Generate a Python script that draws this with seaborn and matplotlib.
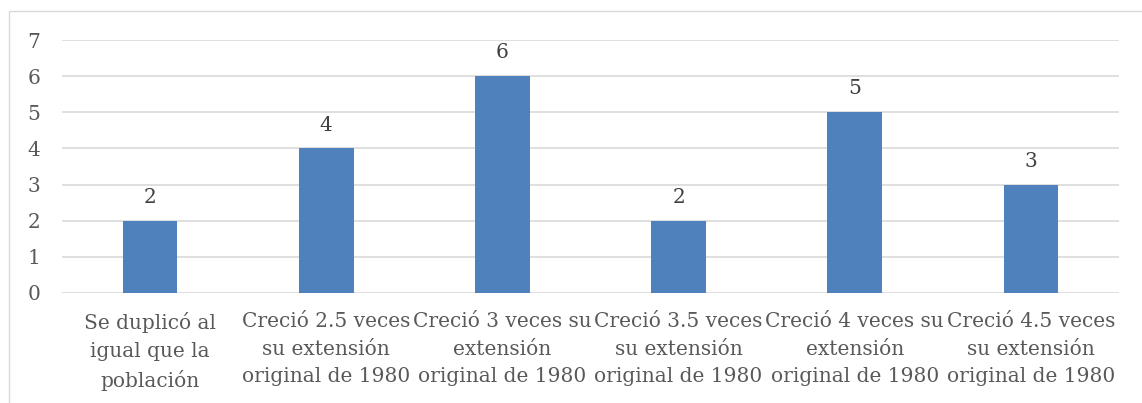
import pandas as pd
import seaborn as sns
import matplotlib.pyplot as plt
from matplotlib.patches import Rectangle

# data
categorias = ["Se duplicó al\nigual que la\npoblación",
              "Creció 2.5 veces\nsu extensión\noriginal de 1980",
              "Creció 3 veces su\nextensión\noriginal de 1980",
              "Creció 3.5 veces\nsu extensión\noriginal de 1980",
              "Creció 4 veces su\nextensión\noriginal de 1980",
              "Creció 4.5 veces\nsu extensión\noriginal de 1980"]
valores = [2, 4, 6, 2, 5, 3]

df = pd.DataFrame({"cat": categorias, "val": valores})

sns.set_style("white")
plt.rcParams['font.family'] = ['DejaVu Serif']

fig = plt.figure(figsize=(11.42, 4.03), dpi=100)
ax = fig.add_axes([62/1142, 1 - 293/403, (1119 - 62)/1142, (293 - 40)/403])

sns.barplot(data=df, x="cat", y="val", color="#4F81BD", width=0.31,
            saturation=1, linewidth=0, ax=ax, zorder=3)

ax.set_ylim(0, 7)
ax.set_yticks(range(0, 8))
ax.set_xlim(-0.5, len(categorias) - 0.5)
ax.yaxis.grid(True, color="#D9D9D9", linewidth=1.2, zorder=0)
ax.set_axisbelow(True)
for s in ax.spines.values():
    s.set_visible(False)
ax.tick_params(axis="y", length=0, pad=25, labelsize=14.5, labelcolor="#595959")
ax.tick_params(axis="x", length=0, pad=14, labelsize=14.5, labelcolor="#595959")
ax.set_xlabel("")
ax.set_ylabel("")
for lbl in ax.get_yticklabels():
    lbl.set_horizontalalignment("left")
for lbl in ax.get_xticklabels():
    lbl.set_linespacing(1.55)

for c in ax.containers:
    ax.bar_label(c, padding=10, fontsize=14.5, color="#404040")

# chart frame
fig.patches.append(Rectangle((9/1142, -0.1), 1.2, 1 - 11/403 + 0.1,
                             transform=fig.transFigure, fill=False,
                             edgecolor="#D9D9D9", linewidth=1))

fig.savefig("out.png", dpi=100)
